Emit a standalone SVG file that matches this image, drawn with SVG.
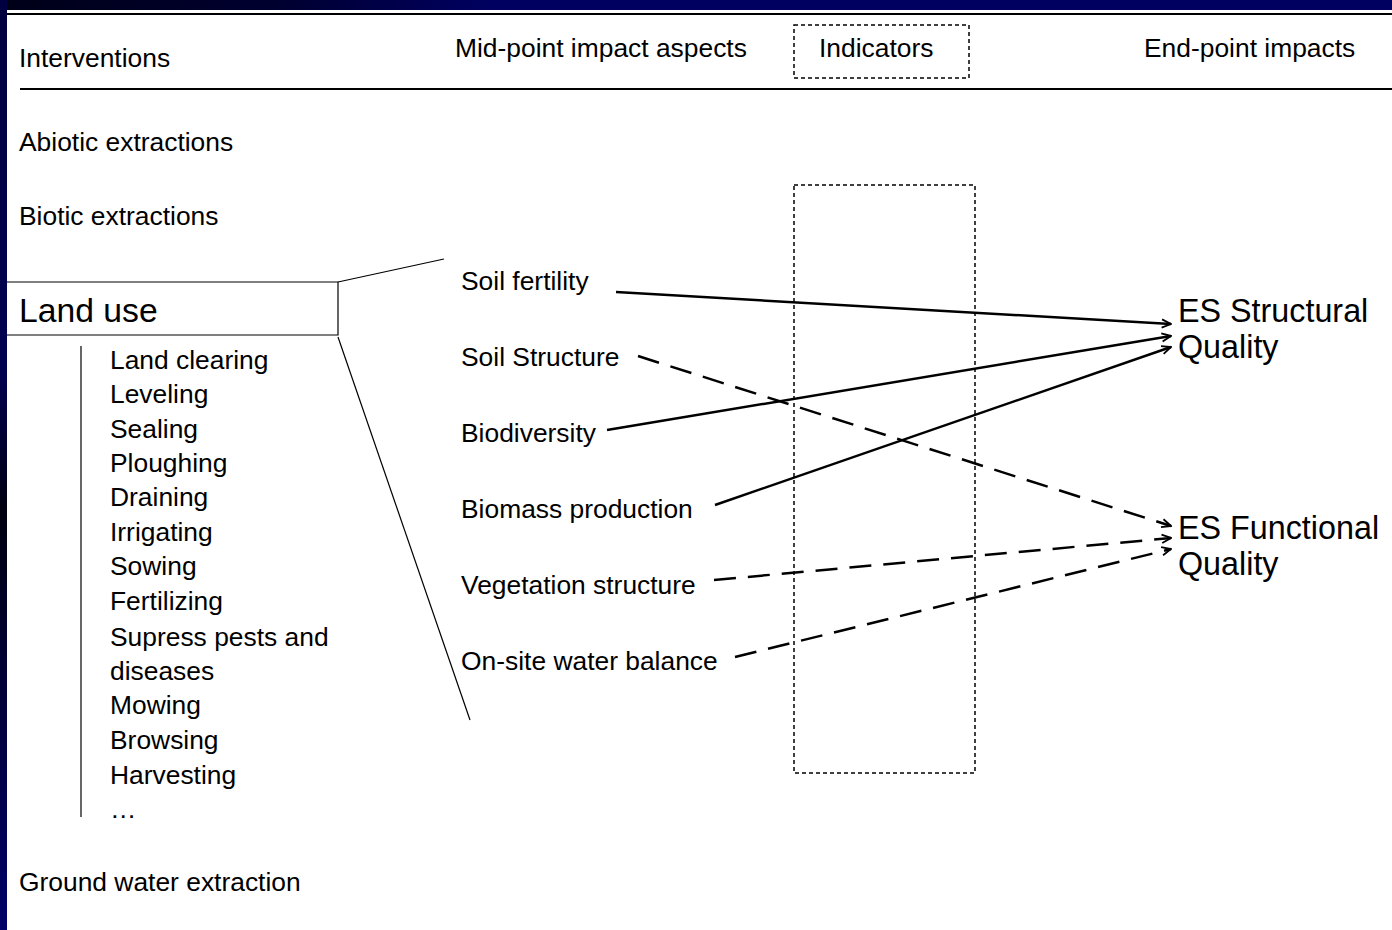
<svg xmlns="http://www.w3.org/2000/svg" width="1392" height="930" viewBox="0 0 1392 930">
<defs>
<linearGradient id="topband" x1="0" y1="0" x2="1" y2="0">
<stop offset="0" stop-color="#000018"/>
<stop offset="0.2" stop-color="#000030"/>
<stop offset="0.35" stop-color="#000060"/>
<stop offset="1" stop-color="#000060"/>
</linearGradient>
<linearGradient id="leftband" x1="0" y1="0" x2="0" y2="1">
<stop offset="0" stop-color="#000040"/>
<stop offset="0.4" stop-color="#000050"/>
<stop offset="0.55" stop-color="#000010"/>
<stop offset="0.7" stop-color="#000030"/>
<stop offset="1" stop-color="#000068"/>
</linearGradient>
<marker id="arr" viewBox="0 0 12 12" refX="11" refY="6" markerWidth="11" markerHeight="11" markerUnits="userSpaceOnUse" orient="auto">
<path d="M1,1.5 L11,6 L1,10.5" fill="none" stroke="#000" stroke-width="2"/>
</marker>
</defs>
<style>
text{font-family:"Liberation Sans",Arial,sans-serif;fill:#000}
.t{font-size:26.4px}
.b{font-size:32.3px}
.rule{stroke:#000;stroke-width:2;fill:none}
.thin{stroke:#000;stroke-width:1.2;fill:none}
.dbox{stroke:#000;stroke-width:1.5;fill:none;stroke-dasharray:4 3}
.c{stroke:#000;stroke-width:2.5;fill:none;marker-end:url(#arr)}
.d{stroke-dasharray:22 12}
</style>
<rect x="0" y="0" width="1392" height="930" fill="#fff"/>
<rect x="0" y="0" width="1392" height="10" fill="url(#topband)"/>
<rect x="0" y="0" width="7" height="930" fill="url(#leftband)"/>

<g id="header">
<line class="rule" x1="7" y1="14" x2="1392" y2="14"/>
<line class="rule" x1="20" y1="89" x2="1392" y2="89"/>
<text class="t" x="19" y="67">Interventions</text>
<text class="t" x="455" y="57">Mid-point impact aspects</text>
<rect class="dbox" x="794" y="25" width="175" height="53"/>
<text class="t" x="819" y="57">Indicators</text>
<text class="t" x="1144" y="57">End-point impacts</text>
</g>

<g id="abiotic"><text class="t" x="19" y="151">Abiotic extractions</text></g>
<g id="biotic"><text class="t" x="19" y="225">Biotic extractions</text></g>

<g id="landuse">
<path class="thin" d="M7,282 H338 V335 H7"/>
<text x="19" y="322" style="font-size:33.7px">Land use</text>
<line class="thin" x1="338" y1="282" x2="444" y2="259"/>
<line class="thin" x1="338" y1="337" x2="470" y2="720"/>
<line class="thin" x1="81" y1="346" x2="81" y2="817"/>
</g>

<g id="landuse-list">
<text class="t" x="110" y="369">Land clearing</text>
<text class="t" x="110" y="403">Leveling</text>
<text class="t" x="110" y="438">Sealing</text>
<text class="t" x="110" y="472">Ploughing</text>
<text class="t" x="110" y="506">Draining</text>
<text class="t" x="110" y="541">Irrigating</text>
<text class="t" x="110" y="575">Sowing</text>
<text class="t" x="110" y="610">Fertilizing</text>
<text class="t" x="110" y="646">Supress pests and</text>
<text class="t" x="110" y="680">diseases</text>
<text class="t" x="110" y="714">Mowing</text>
<text class="t" x="110" y="749">Browsing</text>
<text class="t" x="110" y="784">Harvesting</text>
<text class="t" x="110" y="818">…</text>
</g>

<g id="groundwater"><text class="t" x="19" y="891">Ground water extraction</text></g>

<g id="soil-fertility"><text class="t" x="461" y="290">Soil fertility</text></g>
<g id="soil-structure"><text class="t" x="461" y="366">Soil Structure</text></g>
<g id="biodiversity"><text class="t" x="461" y="442">Biodiversity</text></g>
<g id="biomass"><text class="t" x="461" y="518">Biomass production</text></g>
<g id="vegetation"><text class="t" x="461" y="594">Vegetation structure</text></g>
<g id="water-balance"><text class="t" x="461" y="670">On-site water balance</text></g>

<g id="indicators"><rect class="dbox" x="794" y="185" width="181" height="588"/></g>

<g id="es-structural">
<text class="b" x="1178" y="322">ES Structural</text>
<text class="b" x="1178" y="358">Quality</text>
</g>
<g id="es-functional">
<text class="b" x="1178" y="539">ES Functional</text>
<text class="b" x="1178" y="575">Quality</text>
</g>

<g id="connectors">
<line class="c" x1="616" y1="292" x2="1171" y2="324"/>
<line class="c" x1="607" y1="430" x2="1171" y2="336"/>
<line class="c" x1="715" y1="505" x2="1171" y2="347"/>
<line class="c d" x1="638" y1="356" x2="1171" y2="526"/>
<line class="c d" x1="714" y1="580" x2="1171" y2="538"/>
<line class="c d" x1="735" y1="657" x2="1171" y2="549"/>
</g>
</svg>
